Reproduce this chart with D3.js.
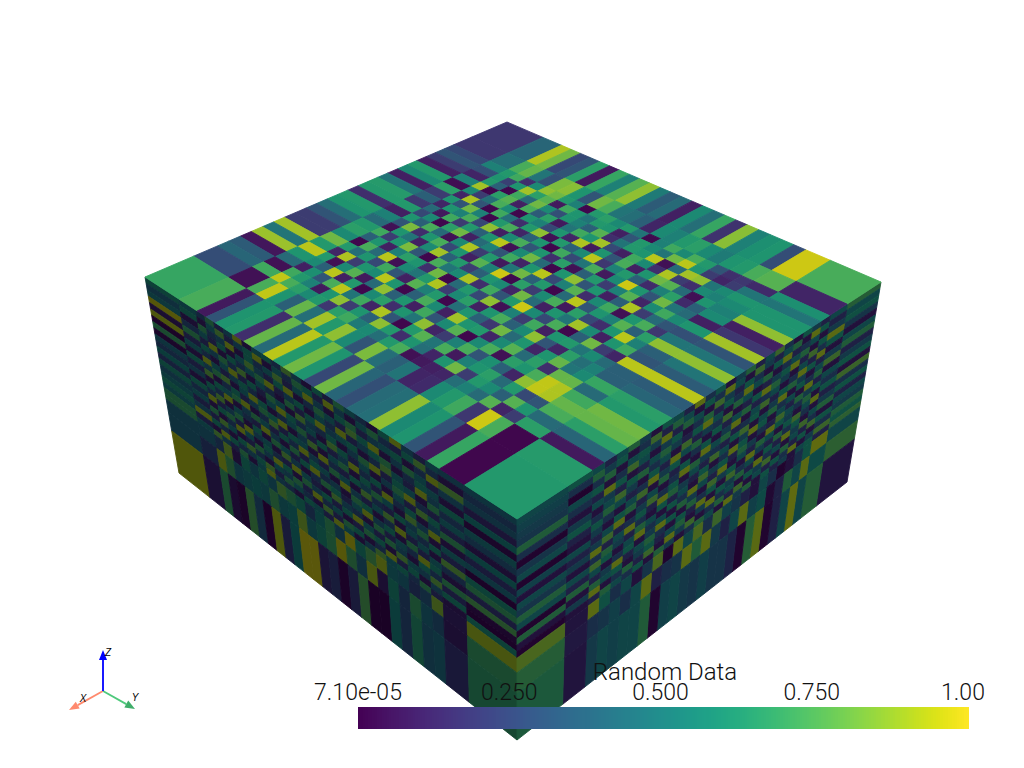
<!DOCTYPE html>
<html><head><meta charset="utf-8">
<script src="https://cdn.jsdelivr.net/npm/d3@7"></script>
<style>html,body{margin:0;padding:0;background:#fff;overflow:hidden}svg{display:block}</style>
</head><body><svg id="c" width="1024" height="768"></svg>
<script>
const xSpacing=[4,2,1,1,1,1,1,1,1,1,1,1,1,1,1,1,1,1,1,1,1,1,1,1,1,2,4];
const ySpacing=[4,2,1,1,1,1,1,1,1,1,1,1,1,1,1,1,1,1,1,1,1,1,1,1,1,2,4];
const zSpacing=[1,1,1,1,1,1,1,1,1,1,1,1,1,1,1,1,1,1,1,1,2.3,3.3,7.7];
const colorbarTicks=[0,0.25,0.5,0.75,1];
const colorbarLabels=["7.10e-05","0.250","0.500","0.750","1.00"];
const colorbarTitle="Random Data";
const axisNames=["X","Y","Z"];
const topValues=[
[.18,.38,.9,.8,.25,.3,.65,.08,.68,.5,.75,.85,.48,.33,.4,.1,.55,.42,.68,.17,.84,.5,.58,.6,.27,.95,.72],
[.18,.42,.72,.78,.45,.28,.82,.84,.6,.3,.8,.72,.45,.42,.35,.12,.55,.5,.62,.65,.55,.48,.6,.62,.72,.75,.12],
[.25,.5,.62,.7,.15,.55,.85,.8,.62,.5,.02,.62,.65,.55,.62,.45,.03,.5,.7,.55,.72,.62,.3,.16,.18,.14,.58],
[.3,.28,.6,.22,.6,.88,.65,.75,.08,.7,.6,.45,.62,.6,.1,.3,.62,.55,.45,.8,.92,.6,.2,.12,.2,.45,.45],
[.2,.12,.62,.35,.02,.7,.4,.8,.55,.28,.6,.5,.35,.75,.15,.45,.62,.6,.92,.05,.4,.88,.85,.45,.55,.6,.6],
[.1,.5,.88,.02,.65,.75,.1,.72,.33,.65,.08,.45,.7,.6,.88,.25,.1,.7,.55,.15,.9,.2,.15,.55,.5,.55,.6],
[.62,.04,.55,.2,.42,.72,.55,.02,.6,.5,.25,.6,.12,.9,.08,.6,.3,.72,.1,.6,.8,.75,.4,.05,.6,.5,.85],
[.55,.65,.12,.9,.3,.02,.7,.42,.15,.62,.85,.05,.62,.35,.55,.92,.18,.5,.62,.35,.14,.5,.65,.14,.35,.55,.1],
[.1,.2,.6,.3,.8,.5,.02,.62,.72,.12,.35,.6,.02,.7,.25,.45,.72,.08,.55,.95,.6,.3,.8,.45,.4,.1,.18],
[.45,.35,.12,.6,.5,.72,.25,.85,.1,.55,.72,.3,.6,.15,.65,.05,.35,.62,.2,.5,.75,.12,.55,.7,.55,.6,.88],
[.63,.18,.4,.08,.7,.2,.62,.35,.6,.92,.05,.55,.8,.4,.02,.6,.85,.3,.6,.1,.35,.9,.2,.4,.3,.28,.3],
[.62,.62,.25,.55,.02,.65,.8,.1,.4,.5,.3,.7,.12,.6,.92,.25,.5,.75,.15,.55,.7,.05,.6,.72,.18,.45,.45],
[.15,.1,.6,.35,.72,.4,.05,.55,.9,.2,.62,.08,.45,.8,.35,.62,.02,.4,.92,.3,.6,.5,.75,.35,.65,.85,.85],
[.62,.5,.3,.82,.15,.6,.72,.25,.6,.1,.75,.5,.95,.03,.65,.2,.55,.72,.08,.65,.25,.15,.6,.92,.5,.35,.45],
[.6,.4,.05,.6,.45,.1,.55,.88,.35,.62,.2,.35,.6,.55,.12,.8,.4,.1,.6,.45,.88,.55,.1,.6,.7,.3,.33],
[.42,.62,.7,.2,.6,.82,.3,.02,.72,.45,.55,.9,.15,.7,.3,.62,.95,.55,.25,.72,.02,.35,.8,.2,.12,.92,.92],
[.3,.65,.35,.6,.1,.5,.65,.6,.15,.8,.02,.4,.62,.25,.85,.05,.5,.2,.7,.1,.6,.62,.45,.55,.4,.35,.33],
[.2,.55,.02,.72,.4,.92,.05,.55,.45,.62,.9,.2,.55,.65,.1,.6,.72,.35,.55,.85,.3,.12,.65,.42,.5,.35,.38],
[.2,.8,.62,.42,.6,.25,.7,.3,.1,.75,.5,.62,.02,.42,.6,.35,.18,.8,.4,.6,.12,.6,.78,.45,.55,.68,.65],
[.88,.62,.12,.9,.2,.6,.55,.92,.6,.02,.35,.72,.55,.1,.88,.6,.62,.12,.55,.75,.4,.65,.15,.78,.78,.4,.62],
[.45,.92,.62,.05,.55,.75,.08,.4,.85,.35,.6,.1,.7,.3,.55,.75,.02,.55,.72,.05,.65,.6,.72,.93,.9,.7,.8],
[.87,.6,.55,.35,.92,.1,.62,.02,.55,.65,.15,.6,.45,.85,.12,.2,.5,.72,.3,.58,.35,.12,.85,.93,.9,.78,.78],
[.07,.4,.1,.58,.3,.72,.92,.45,.7,.12,.9,.3,.02,.62,.75,.45,.72,.08,.5,.6,.65,.4,.62,.25,.3,.72,.65],
[.33,.05,.7,.62,.5,.08,.6,.85,.2,.6,.35,.85,.62,.15,.6,.42,.12,.6,.8,.2,.62,.55,.35,.75,.6,.4,.38],
[.38,.7,.93,.72,.65,.55,.62,.18,.65,.7,.48,.55,.42,.62,.72,.05,.08,.1,.12,.42,.5,.4,.75,.12,.2,.65,.08],
[.27,.05,.72,.93,.6,.35,.78,.42,.88,.62,.85,.55,.3,.82,.42,.35,.45,.12,.14,.55,.62,.7,.18,.95,.72,.02,.63],
[.68,.72,.08,.3,.6,.62,.15,.78,.4,.92,.62,.8,.6,.25,.8,.38,.28,.4,.42,.85,.55,.6,.3,.08,.68,.02,.62]];
const leftValues=[
[.6,.5,.3,.7,.2,.4,.9,.1,.5,.6,.3,.8,.4,.1,.6,.2,.7,.5,.3,.1,.6,.9,.4,.2,.5,.4,.45],
[.4,.6,.1,.5,.8,.2,.4,.6,.9,.1,.5,.3,.7,.6,.2,.9,.4,.1,.5,.7,.3,.2,.6,.8,.3,.1,.3],
[.5,.1,.7,.3,.4,.9,.1,.6,.3,.5,.8,.2,.5,.9,.4,.1,.6,.7,.2,.4,.5,.6,.1,.3,.9,.8,.4],
[.95,.3,.5,.2,.6,.1,.5,.8,.4,.2,.6,.9,.1,.3,.7,.5,.2,.8,.6,.9,.1,.4,.7,.5,.2,.4,.15],
[.1,.7,.2,.9,.1,.6,.3,.5,.7,.9,.2,.4,.6,.1,.5,.3,.9,.2,.4,.6,.7,.1,.3,.6,.5,.1,.55],
[.92,.2,.6,.4,.7,.3,.8,.1,.5,.3,.1,.7,.2,.6,.9,.4,.5,.6,.1,.3,.8,.5,.2,.9,.4,.6,.05],
[.03,.5,.3,.1,.5,.9,.2,.6,.2,.7,.5,.1,.8,.4,.3,.6,.1,.4,.7,.9,.2,.6,.5,.1,.7,.3,.5],
[.7,.1,.9,.5,.2,.4,.6,.3,.1,.5,.9,.6,.3,.5,.1,.8,.6,.2,.5,.1,.4,.7,.9,.3,.2,.5,.35],
[.05,.6,.4,.7,.8,.1,.5,.9,.6,.1,.3,.5,.7,.2,.6,.2,.4,.9,.3,.6,.1,.5,.2,.8,.6,.2,.1],
[.45,.2,.8,.1,.3,.6,.2,.4,.7,.6,.9,.1,.4,.8,.1,.5,.7,.1,.6,.2,.9,.3,.6,.1,.4,.7,.55],
[.3,.4,.1,.6,.5,.7,.9,.1,.3,.8,.2,.6,.5,.1,.9,.3,.2,.6,.4,.7,.5,.1,.8,.4,.9,.1,.2],
[.55,.1,.6,.3,.9,.1,.4,.7,.5,.2,.6,.3,.9,.4,.2,.7,.5,.1,.8,.3,.2,.6,.4,.7,.1,.5,.45],
[.25,.6,.3,.8,.1,.5,.3,.2,.9,.4,.1,.7,.2,.6,.5,.1,.9,.4,.2,.5,.8,.1,.5,.3,.6,.2,.02],
[.6,.3,.9,.2,.4,.7,.1,.6,.1,.7,.5,.2,.6,.9,.3,.4,.1,.7,.6,.1,.3,.9,.2,.5,.1,.8,.6],
[.4,.5,.1,.6,.7,.2,.9,.4,.5,.1,.8,.4,.1,.3,.7,.6,.2,.5,.9,.4,.6,.1,.7,.2,.5,.3,.7],
[.5,.2,.7,.1,.3,.9,.5,.1,.6,.3,.2,.9,.5,.2,.1,.8,.4,.3,.1,.7,.2,.5,.3,.9,.6,.1,.2],
[.62,.4,.2,.8,.5,.1,.2,.7,.4,.9,.6,.1,.7,.4,.6,.2,.6,.9,.5,.2,.7,.4,.1,.6,.3,.7,.75],
[.5,.9,.6,.3,.1,.6,.8,.3,.1,.5,.4,.7,.2,.9,.3,.5,.1,.2,.7,.6,.1,.8,.5,.4,.8,.2,.05],
[.7,.2,.1,.9,.6,.3,.4,.6,.8,.2,.7,.5,.3,.1,.8,.2,.7,.6,.1,.3,.9,.2,.6,.1,.4,.6,.02],
[.7,.5,.8,.4,.2,.7,.1,.5,.9,.4,.3,.1,.6,.5,.2,.9,.5,.1,.4,.8,.5,.6,.3,.7,.2,.1,.6],
[.42,.42,.3,.85,.1,.6,.45,.6,.45,.8,.7,.6,.3,.55,.7,.4,.95,.6,.75,.9,.5,.45,.25,.35,.85,.12,.9],
[.42,.25,.9,.72,.45,.5,.55,.5,.72,.5,.55,.85,.5,.6,.7,.95,.72,.4,.9,.1,.6,.3,.7,.45,.35,.1,.7],
[.93,.12,.7,.08,.03,.75,.35,.02,.92,.2,.55,.97,.97,.15,.22,.02,.2,.75,.01,.01,.55,.3,.65,.4,.45,.18,.68]];
const rightValues=[
[.72,.5,.2,.4,.6,.1,.3,.8,.5,.2,.7,.4,.1,.6,.3,.9,.2,.5,.6,.1,.4,.7,.5,.2,.5,.6,.5],
[.5,.2,.6,.9,.1,.7,.5,.2,.4,.8,.1,.5,.9,.3,.6,.1,.5,.7,.2,.8,.3,.1,.6,.4,.7,.3,.45],
[.6,.4,.1,.5,.3,.2,.9,.6,.1,.3,.6,.2,.4,.8,.1,.5,.7,.2,.9,.4,.6,.5,.1,.7,.3,.02,.4],
[.35,.9,.6,.1,.7,.5,.3,.1,.7,.5,.9,.3,.6,.2,.7,.3,.1,.6,.4,.1,.5,.8,.3,.1,.6,.5,.35],
[.1,.6,.3,.8,.2,.9,.6,.4,.2,.1,.5,.7,.1,.5,.9,.6,.2,.4,.7,.5,.2,.1,.6,.9,.2,.3,.7],
[.5,.1,.9,.2,.5,.1,.4,.7,.9,.6,.2,.1,.8,.3,.4,.2,.8,.1,.5,.3,.7,.6,.2,.4,.5,.1,.3],
[.7,.4,.2,.6,.9,.3,.1,.5,.3,.2,.7,.5,.2,.6,.1,.7,.5,.9,.2,.6,.1,.4,.8,.5,.1,.4,.02],
[.2,.8,.5,.1,.4,.7,.6,.2,.8,.5,.1,.9,.4,.1,.6,.3,.1,.6,.4,.9,.3,.2,.5,.7,.3,.6,.35],
[.4,.1,.7,.3,.6,.1,.9,.4,.1,.6,.3,.2,.7,.5,.9,.1,.6,.2,.7,.1,.8,.5,.1,.3,.6,.2,.5],
[.6,.5,.2,.9,.1,.5,.3,.7,.5,.1,.8,.6,.2,.3,.4,.7,.9,.3,.1,.5,.2,.7,.6,.1,.4,.1,.02],
[.1,.3,.6,.4,.7,.2,.5,.1,.6,.9,.4,.1,.5,.8,.2,.5,.1,.6,.3,.8,.4,.1,.9,.5,.2,.5,.45],
[.8,.6,.1,.7,.3,.5,.8,.2,.3,.1,.6,.9,.3,.1,.6,.2,.4,.7,.9,.2,.6,.3,.2,.8,.4,.2,.1],
[.3,.2,.9,.5,.1,.4,.6,.9,.1,.4,.7,.2,.6,.4,.8,.1,.5,.2,.6,.1,.3,.9,.5,.2,.9,.4,.5],
[.6,.4,.1,.3,.8,.6,.1,.5,.7,.2,.5,.1,.9,.2,.5,.9,.3,.6,.1,.5,.7,.2,.4,.7,.3,.1,.35],
[.2,.7,.5,.1,.6,.3,.7,.2,.4,.9,.1,.6,.4,.8,.1,.4,.7,.1,.5,.3,.9,.5,.1,.6,.8,.5,.7],
[.5,.1,.3,.8,.4,.9,.2,.6,.1,.5,.3,.8,.1,.6,.3,.7,.1,.6,.9,.4,.1,.6,.3,.1,.5,.2,.5],
[.4,.6,.8,.2,.5,.1,.5,.3,.9,.2,.7,.4,.6,.1,.9,.2,.6,.1,.3,.7,.5,.2,.9,.4,.2,.7,.02],
[.7,.3,.1,.6,.2,.7,.1,.8,.4,.6,.1,.5,.3,.9,.4,.1,.7,.5,.2,.6,.4,.1,.6,.5,.7,.1,.7],
[.6,.8,.4,.1,.9,.3,.6,.2,.5,.1,.8,.2,.7,.3,.1,.8,.4,.9,.1,.8,.2,.7,.3,.1,.9,.4,.1],
[.75,.2,.6,.5,.1,.4,.2,.6,.1,.7,.4,.9,.1,.5,.7,.3,.1,.4,.7,.1,.6,.3,.5,.7,.2,.1,.02],
[.5,.92,.6,.3,.1,.02,.3,.5,.1,.2,.35,.45,.8,.3,.85,.5,.9,.02,.85,.35,.1,.5,.3,.6,.9,.12,.85],
[.75,.55,.9,.5,.7,.2,.05,.55,.45,.9,.5,.2,.4,.9,.7,.9,.35,.3,.2,.9,.5,.3,.45,.35,.3,.15,.72],
[.12,.72,.5,.92,.5,.2,.03,.9,.72,.02,.22,.35,.35,.45,.35,.4,.5,.45,.03,.7,.5,.5,.45,.5,.4,.12,.68]];

const viridis=d3.scaleSequential(d3.interpolateViridis).domain([0,1]);
function shade(v,f){const c=d3.rgb(viridis(v));return d3.rgb(c.r*f[0],c.g*f[1],c.b*f[2]).formatRgb();}
const topShade=[.92,.88,.84],leftShade=[.38,.38,.42],rightShade=[.47,.47,.5];
function edges(sp){
 const e=[0,...d3.cumsum(sp)];
 const s=d3.scaleLinear().domain([0,e[e.length-1]]).range([0,1]);
 return e.map(s);
}
const xe=edges(xSpacing),ye=edges(ySpacing),ze=edges(zSpacing);
// projective map of the unit square onto a screen quad: (0,0)=a (1,0)=b (1,1)=c (0,1)=d
function quad(a,b,c,d){
 const sx=a[0]-b[0]+c[0]-d[0],sy=a[1]-b[1]+c[1]-d[1];
 const dx1=b[0]-c[0],dx2=d[0]-c[0],dy1=b[1]-c[1],dy2=d[1]-c[1];
 const den=dx1*dy2-dx2*dy1;
 const g=(sx*dy2-dx2*sy)/den,h=(dx1*sy-sx*dy1)/den;
 const A=b[0]-a[0]+g*b[0],B=d[0]-a[0]+h*d[0],C=a[0];
 const D=b[1]-a[1]+g*b[1],E=d[1]-a[1]+h*d[1],F=a[1];
 return (u,v)=>{const w=g*u+h*v+1;return [(A*u+B*v+C)/w,(D*u+E*v+F)/w];};
}
const P={B:[507,122],L:[145,277],R:[881,282],F:[517,519],bL:[179,473],bR:[847,482],bF:[517,740]};
const svg=d3.select("#c");
function face(name,map,rowEdges,colEdges,values,f){
 const cells=[];
 values.forEach((row,r)=>row.forEach((v,c)=>cells.push({r,c,v})));
 svg.append("g").attr("class",name).selectAll("polygon").data(cells).join("polygon")
  .attr("points",d=>[map(colEdges[d.c],rowEdges[d.r]),map(colEdges[d.c+1],rowEdges[d.r]),map(colEdges[d.c+1],rowEdges[d.r+1]),map(colEdges[d.c],rowEdges[d.r+1])].map(p=>p[0].toFixed(2)+","+p[1].toFixed(2)).join(" "))
  .attr("fill",d=>shade(d.v,f)).attr("stroke",d=>shade(d.v,f)).attr("stroke-width",.9).attr("stroke-linejoin","round");
}
face("left",quad(P.L,P.F,P.bF,P.bL),ze,ye,leftValues,leftShade);
face("right",quad(P.R,P.F,P.bF,P.bR),ze,xe,rightValues,rightShade);
face("top",quad(P.B,P.R,P.F,P.L),xe,ye,topValues,topShade);

// colour bar
const barX=d3.scaleLinear().domain([0,1]).range([358,969]);
const labelX=d3.scaleLinear().domain([0,1]).range([358,963]);
const steps=d3.range(256).map(i=>i/256);
svg.append("g").attr("shape-rendering","crispEdges").selectAll("rect").data(steps).join("rect")
 .attr("x",d=>barX(d)).attr("y",707).attr("width",d=>Math.min(611/256+1,969-barX(d))).attr("height",22).attr("fill",d=>viridis(d));
const font="Roboto, 'Liberation Sans', sans-serif";
svg.append("g").selectAll("text").data(colorbarTicks).join("text")
 .attr("x",d=>labelX(d)).attr("y",700).attr("text-anchor","middle")
 .attr("font-family",font).attr("font-weight",300).attr("font-size",23).attr("fill","#111")
 .text((d,i)=>colorbarLabels[i]);
svg.append("text").attr("x",665).attr("y",680).attr("text-anchor","middle")
 .attr("font-family",font).attr("font-weight",300).attr("font-size",24).attr("fill","#111").text(colorbarTitle);

// orientation widget
const origin=[103,691];
const axes=[{n:axisNames[0],t:[69,710],c:"#ff8a6e",h:"#ff8a6e",lx:83,ly:702},{n:axisNames[1],t:[135,709],c:"#4fc97c",h:"#3fae6a",lx:135,ly:701},{n:axisNames[2],t:[103,650],c:"#0000ff",h:"#0000ff",lx:108,ly:656}];
const w=svg.append("g");
axes.forEach(a=>{
 const dx=a.t[0]-origin[0],dy=a.t[1]-origin[1],l=Math.hypot(dx,dy),ux=dx/l,uy=dy/l,b=[a.t[0]-ux*10,a.t[1]-uy*10];
 w.append("line").attr("x1",origin[0]).attr("y1",origin[1]).attr("x2",b[0]).attr("y2",b[1]).attr("stroke",a.c).attr("stroke-width",1.8);
 w.append("polygon").attr("points",[a.t,[b[0]-uy*4,b[1]+ux*4],[b[0]+uy*4,b[1]-ux*4]].map(p=>p.join(",")).join(" ")).attr("fill",a.h);
 w.append("text").attr("x",a.lx).attr("y",a.ly).attr("text-anchor","middle").attr("font-family","'Liberation Sans',sans-serif").attr("font-style","italic").attr("font-size",10).attr("fill","#000").text(a.n);
});
</script></body></html>
